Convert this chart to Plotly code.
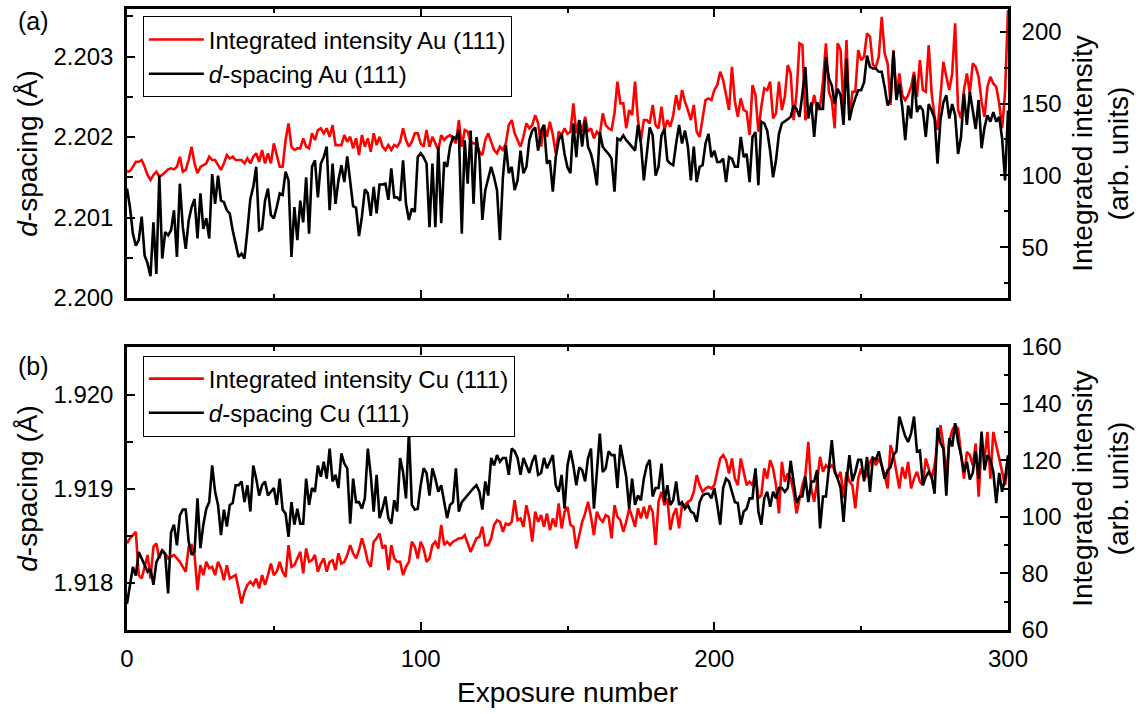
import plotly.graph_objects as go

# Exposure index (0 ... 300)
exposure = list(range(301))

# Au (111): d-spacing in Angstrom
au_dspacing = [
    2.20136, 2.20113, 2.20080, 2.20065, 2.20072, 2.20101, 2.20053, 2.20043, 2.20027, 2.20094,
    2.20030, 2.20152, 2.20049, 2.20082, 2.20078, 2.20084, 2.20109, 2.20051, 2.20142, 2.20088,
    2.20061, 2.20096, 2.20113, 2.20123, 2.20074, 2.20130, 2.20086, 2.20099, 2.20074, 2.20154,
    2.20117, 2.20152, 2.20121, 2.20119, 2.20109, 2.20105, 2.20084, 2.20067, 2.20051, 2.20055,
    2.20049, 2.20084, 2.20123, 2.20138, 2.20163, 2.20084, 2.20086, 2.20121, 2.20136, 2.20103,
    2.20099, 2.20113, 2.20130, 2.20128, 2.20157, 2.20146, 2.20051, 2.20113, 2.20072, 2.20121,
    2.20094, 2.20150, 2.20080, 2.20163, 2.20171, 2.20125, 2.20167, 2.20175, 2.20188, 2.20109,
    2.20167, 2.20117, 2.20146, 2.20165, 2.20144, 2.20176, 2.20148, 2.20114, 2.20112, 2.20077,
    2.20101, 2.20135, 2.20130, 2.20102, 2.20138, 2.20105, 2.20141, 2.20141, 2.20142, 2.20122,
    2.20161, 2.20125, 2.20125, 2.20121, 2.20171, 2.20117, 2.20097, 2.20111, 2.20107, 2.20175,
    2.20180, 2.20175, 2.20167, 2.20088, 2.20167, 2.20088, 2.20188, 2.20093, 2.20169, 2.20163,
    2.20188, 2.20200, 2.20198, 2.20208, 2.20080, 2.20196, 2.20142, 2.20208, 2.20117, 2.20200,
    2.20175, 2.20097, 2.20134, 2.20150, 2.20163, 2.20150, 2.20134, 2.20072, 2.20150, 2.20190,
    2.20155, 2.20163, 2.20134, 2.20146, 2.20183, 2.20155, 2.20163, 2.20196, 2.20208, 2.20212,
    2.20183, 2.20208, 2.20215, 2.20167, 2.20171, 2.20132, 2.20175, 2.20196, 2.20204, 2.20179,
    2.20162, 2.20155, 2.20217, 2.20175, 2.20221, 2.20188, 2.20221, 2.20188, 2.20179, 2.20163,
    2.20140, 2.20206, 2.20188, 2.20183, 2.20179, 2.20173, 2.20132, 2.20198, 2.20196, 2.20202,
    2.20196, 2.20192, 2.20188, 2.20183, 2.20215, 2.20192, 2.20146, 2.20183, 2.20212, 2.20202,
    2.20152, 2.20163, 2.20202, 2.20210, 2.20171, 2.20167, 2.20165, 2.20192, 2.20215, 2.20192,
    2.20208, 2.20188, 2.20146, 2.20188, 2.20144, 2.20163, 2.20165, 2.20192, 2.20204, 2.20175,
    2.20183, 2.20169, 2.20169, 2.20173, 2.20144, 2.20175, 2.20173, 2.20163, 2.20163, 2.20200,
    2.20175, 2.20179, 2.20144, 2.20200, 2.20206, 2.20140, 2.20219, 2.20217, 2.20208, 2.20183,
    2.20150, 2.20171, 2.20204, 2.20217, 2.20219, 2.20222, 2.20225, 2.20239, 2.20235, 2.20225,
    2.20254, 2.20287, 2.20223, 2.20243, 2.20200, 2.20243, 2.20235, 2.20235, 2.20299, 2.20273,
    2.20264, 2.20241, 2.20260, 2.20252, 2.20215, 2.20297, 2.20221, 2.20237, 2.20248, 2.20258,
    2.20258, 2.20268, 2.20301, 2.20287, 2.20285, 2.20285, 2.20281, 2.20281, 2.20262, 2.20239,
    2.20248, 2.20306, 2.20246, 2.20266, 2.20237, 2.20196, 2.20239, 2.20223, 2.20277, 2.20231,
    2.20239, 2.20233, 2.20200, 2.20241, 2.20233, 2.20223, 2.20167, 2.20221, 2.20243, 2.20252,
    2.20223, 2.20241, 2.20227, 2.20179, 2.20200, 2.20254, 2.20215, 2.20256, 2.20233, 2.20210,
    2.20246, 2.20186, 2.20212, 2.20227, 2.20219, 2.20231, 2.20219, 2.20225, 2.20198, 2.20146,
    2.20233,
]

# Au (111): integrated intensity (arb. units)
au_intensity = [
    102.6, 103.0, 106.0, 109.5, 109.5, 110.7, 106.0, 100.3, 96.8, 100.3,
    102.6, 99.1, 100.3, 102.6, 104.2, 104.9, 104.2, 106.0, 113.0, 102.6,
    103.8, 110.7, 120.0, 108.4, 101.5, 106.0, 107.2, 108.4, 113.0, 110.7,
    110.7, 107.2, 103.8, 108.4, 114.2, 111.9, 113.0, 110.7, 110.7, 110.7,
    108.4, 111.9, 108.4, 113.0, 115.4, 109.5, 117.7, 108.4, 115.4, 108.4,
    122.3, 114.2, 106.0, 106.0, 124.6, 136.2, 120.0, 117.7, 118.8, 118.8,
    125.8, 120.0, 118.8, 129.3, 124.6, 131.6, 132.8, 129.3, 132.8, 126.9,
    135.0, 121.1, 121.1, 121.1, 128.1, 123.4, 126.9, 118.8, 125.8, 114.2,
    128.1, 120.0, 125.8, 116.5, 129.3, 121.1, 126.9, 120.0, 117.7, 121.1,
    117.7, 121.1, 120.0, 123.4, 132.8, 124.6, 120.0, 123.4, 129.3, 129.3,
    122.3, 120.0, 131.6, 120.0, 126.9, 122.3, 117.7, 128.1, 124.6, 126.9,
    128.1, 125.8, 122.3, 138.5, 120.0, 131.6, 130.4, 123.4, 122.3, 122.3,
    116.5, 114.2, 124.6, 129.3, 123.4, 117.7, 115.4, 120.0, 117.7, 122.3,
    135.0, 138.5, 129.3, 124.6, 120.0, 126.9, 136.2, 132.8, 135.0, 142.0,
    136.2, 120.0, 135.0, 126.9, 137.3, 128.1, 115.4, 130.4, 128.1, 132.8,
    129.0, 130.4, 150.1, 129.3, 138.5, 130.4, 140.8, 130.4, 132.8, 125.8,
    130.4, 128.1, 143.2, 135.0, 132.8, 131.6, 143.2, 165.2, 150.1, 150.1,
    132.8, 145.5, 141.9, 165.2, 138.5, 124.6, 138.5, 138.5, 136.2, 149.0,
    135.0, 132.8, 147.8, 131.6, 138.5, 133.9, 141.9, 155.9, 145.5, 159.4,
    151.3, 145.5, 138.5, 149.0, 130.4, 126.9, 138.5, 152.4, 153.6, 152.4,
    159.4, 162.9, 172.1, 166.3, 155.9, 145.5, 175.6, 151.3, 140.8, 153.6,
    145.5, 144.3, 128.1, 162.9, 155.9, 130.4, 147.8, 160.6, 159.4, 165.2,
    139.7, 143.2, 165.2, 145.5, 154.7, 176.8, 171.0, 138.5, 157.1, 191.9,
    190.7, 138.5, 145.5, 145.5, 155.9, 145.5, 147.8, 165.2, 191.9, 158.2,
    152.4, 132.8, 191.9, 187.2, 145.5, 194.2, 138.5, 158.2, 158.2, 187.2,
    180.3, 182.6, 198.8, 196.5, 176.8, 175.6, 182.6, 210.4, 184.9, 178.0,
    149.0, 187.2, 153.6, 171.0, 155.9, 152.4, 155.9, 161.7, 172.1, 154.7,
    180.3, 159.4, 158.2, 190.7, 157.1, 140.8, 131.6, 157.1, 179.1, 168.6,
    159.4, 171.0, 205.8, 145.5, 139.7, 159.4, 171.0, 157.1, 178.0, 175.6,
    168.6, 151.3, 140.8, 161.7, 168.6, 164.0, 161.7, 150.1, 132.8, 158.0,
    215.0,
]

# Cu (111): d-spacing in Angstrom
cu_dspacing = [
    1.91778, 1.91798, 1.91817, 1.91808, 1.91833, 1.91826, 1.91819, 1.91812, 1.91815, 1.91798,
    1.91822, 1.91828, 1.91835, 1.91830, 1.91789, 1.91854, 1.91862, 1.91840, 1.91872, 1.91878,
    1.91878, 1.91844, 1.91830, 1.91833, 1.91890, 1.91837, 1.91862, 1.91879, 1.91886, 1.91925,
    1.91897, 1.91883, 1.91851, 1.91878, 1.91860, 1.91883, 1.91885, 1.91904, 1.91904, 1.91908,
    1.91886, 1.91904, 1.91876, 1.91925, 1.91911, 1.91893, 1.91904, 1.91908, 1.91893, 1.91897,
    1.91901, 1.91883, 1.91911, 1.91878, 1.91874, 1.91849, 1.91886, 1.91862, 1.91879, 1.91863,
    1.91863, 1.91911, 1.91883, 1.91901, 1.91897, 1.91925, 1.91913, 1.91929, 1.91911, 1.91943,
    1.91908, 1.91915, 1.91901, 1.91938, 1.91927, 1.91922, 1.91863, 1.91911, 1.91886, 1.91886,
    1.91879, 1.91890, 1.91943, 1.91915, 1.91876, 1.91915, 1.91869, 1.91879, 1.91892, 1.91869,
    1.91863, 1.91888, 1.91876, 1.91933, 1.91918, 1.91890, 1.91961, 1.91883, 1.91878, 1.91879,
    1.91904, 1.91922, 1.91917, 1.91893, 1.91922, 1.91911, 1.91897, 1.91904, 1.91886, 1.91869,
    1.91883, 1.91886, 1.91922, 1.91876, 1.91886, 1.91890, 1.91893, 1.91897, 1.91901, 1.91904,
    1.91897, 1.91878, 1.91908, 1.91893, 1.91933, 1.91925, 1.91936, 1.91929, 1.91933, 1.91933,
    1.91915, 1.91943, 1.91940, 1.91933, 1.91915, 1.91933, 1.91925, 1.91917, 1.91929, 1.91936,
    1.91915, 1.91917, 1.91933, 1.91922, 1.91929, 1.91936, 1.91904, 1.91897, 1.91915, 1.91879,
    1.91925, 1.91941, 1.91925, 1.91904, 1.91923, 1.91920, 1.91908, 1.91933, 1.91943, 1.91879,
    1.91918, 1.91959, 1.91918, 1.91922, 1.91940, 1.91936, 1.91936, 1.91901, 1.91947, 1.91929,
    1.91913, 1.91879, 1.91911, 1.91883, 1.91893, 1.91888, 1.91911, 1.91925, 1.91931, 1.91892,
    1.91901, 1.91901, 1.91927, 1.91886, 1.91904, 1.91883, 1.91888, 1.91908, 1.91883, 1.91886,
    1.91879, 1.91883, 1.91876, 1.91874, 1.91865, 1.91886, 1.91893, 1.91895, 1.91895, 1.91890,
    1.91901, 1.91883, 1.91862, 1.91901, 1.91911, 1.91908, 1.91897, 1.91886, 1.91885, 1.91862,
    1.91876, 1.91879, 1.91890, 1.91890, 1.91922, 1.91876, 1.91862, 1.91890, 1.91897, 1.91881,
    1.91897, 1.91890, 1.91901, 1.91901, 1.91897, 1.91901, 1.91930, 1.91908, 1.91885, 1.91892,
    1.91892, 1.91913, 1.91886, 1.91908, 1.91908, 1.91920, 1.91858, 1.91892, 1.91892, 1.91922,
    1.91952, 1.91918, 1.91911, 1.91901, 1.91865, 1.91908, 1.91936, 1.91908, 1.91918, 1.91931,
    1.91931, 1.91908, 1.91934, 1.91897, 1.91933, 1.91931, 1.91940, 1.91925, 1.91911, 1.91920,
    1.91923, 1.91936, 1.91940, 1.91977, 1.91965, 1.91956, 1.91950, 1.91959, 1.91977, 1.91940,
    1.91941, 1.91904, 1.91913, 1.91918, 1.91913, 1.91895, 1.91965, 1.91949, 1.91943, 1.91893,
    1.91954, 1.91945, 1.91970, 1.91950, 1.91936, 1.91918, 1.91929, 1.91910, 1.91917, 1.91940,
    1.91911, 1.91961, 1.91920, 1.91936, 1.91931, 1.91918, 1.91885, 1.91917, 1.91897, 1.91911,
    1.91936,
]

# Cu (111): integrated intensity (arb. units)
cu_intensity = [
    90.6, 92.4, 93.5, 94.7, 79.4, 78.2, 82.3, 86.5, 78.2, 89.4,
    90.6, 85.3, 88.2, 87.1, 85.3, 85.9, 86.5, 85.3, 84.1, 82.3,
    80.6, 89.4, 90.0, 86.5, 74.1, 82.9, 79.4, 84.1, 81.8, 82.3,
    79.4, 84.1, 81.8, 77.6, 82.9, 78.2, 78.8, 79.4, 74.7, 69.4,
    73.5, 75.9, 77.1, 75.9, 78.2, 74.7, 79.4, 75.9, 79.4, 83.5,
    79.4, 80.6, 84.1, 80.6, 78.8, 90.0, 82.3, 82.9, 85.3, 87.6,
    80.0, 88.8, 84.1, 84.7, 86.5, 80.6, 83.5, 85.3, 80.6, 84.1,
    84.7, 81.2, 87.1, 83.5, 84.1, 86.5, 90.0, 87.1, 85.3, 88.2,
    92.4, 88.8, 84.1, 82.3, 91.2, 92.4, 94.1, 88.8, 90.0, 81.2,
    90.0, 85.3, 84.1, 84.1, 79.4, 82.3, 84.1, 91.2, 89.4, 85.3,
    91.2, 88.8, 84.1, 85.3, 90.0, 91.2, 88.8, 97.1, 90.0, 91.2,
    90.0, 91.2, 91.8, 92.4, 92.4, 93.5, 90.6, 87.6, 90.0, 92.4,
    92.9, 96.5, 90.0, 90.0, 92.4, 97.1, 98.8, 98.2, 94.7, 97.6,
    97.1, 98.2, 105.9, 98.8, 99.4, 96.5, 104.1, 99.4, 91.2, 101.8,
    98.2, 100.6, 96.5, 101.2, 95.3, 99.4, 96.5, 104.7, 95.9, 101.8,
    103.5, 97.1, 96.5, 88.8, 93.5, 98.2, 101.2, 105.3, 100.0, 93.5,
    101.8, 99.4, 98.2, 100.6, 100.0, 92.4, 104.1, 100.0, 98.8, 94.7,
    98.2, 103.0, 100.0, 96.5, 103.0, 99.4, 103.5, 99.4, 104.1, 101.8,
    90.0, 105.3, 108.8, 104.1, 106.5, 95.3, 100.6, 103.0, 95.9, 104.1,
    104.1, 105.3, 105.9, 108.8, 114.7, 111.2, 108.8, 110.0, 110.6, 110.0,
    111.2, 115.9, 120.6, 121.8, 120.0, 115.3, 120.6, 113.5, 111.2, 120.6,
    115.9, 111.2, 112.4, 111.2, 115.9, 106.5, 107.6, 117.1, 113.5, 120.0,
    117.1, 111.2, 101.2, 119.4, 112.4, 115.3, 113.5, 108.8, 101.2, 106.5,
    111.2, 114.7, 126.5, 110.0, 105.3, 112.4, 121.2, 115.9, 118.2, 117.1,
    118.2, 116.5, 113.5, 115.9, 106.5, 115.9, 112.4, 111.2, 103.0, 113.5,
    117.1, 113.5, 114.7, 119.4, 121.2, 118.2, 120.6, 118.2, 114.7, 110.0,
    125.3, 121.8, 115.9, 110.0, 117.6, 113.5, 119.4, 110.0, 113.5, 115.9,
    112.4, 111.2, 120.6, 117.1, 113.5, 118.2, 126.5, 132.4, 125.3, 114.7,
    126.5, 130.6, 132.4, 131.2, 121.8, 113.5, 122.9, 121.8, 118.2, 125.9,
    107.1, 125.3, 120.6, 130.0, 113.5, 130.0, 125.3, 120.6, 115.9, 111.2,
    118.2,
]

FONT = "Arial, 'Liberation Sans', sans-serif"
RED = "#ff0000"
BLACK = "#000000"
LW = 2.6

fig = go.Figure()

# Panel (a): Au (111); intensity on the base (right) axis, d-spacing overlaid on the left
fig.add_trace(go.Scatter(
    x=exposure[:len(au_intensity)], y=au_intensity, mode="lines",
    line=dict(color=RED, width=LW), name="Integrated intensity Au (111)",
    xaxis="x", yaxis="y", legend="legend"))
fig.add_trace(go.Scatter(
    x=exposure[:len(au_dspacing)], y=au_dspacing, mode="lines",
    line=dict(color=BLACK, width=LW), name="<i>d</i>-spacing Au (111)",
    xaxis="x", yaxis="y2", legend="legend"))

# Panel (b): Cu (111)
fig.add_trace(go.Scatter(
    x=exposure[:len(cu_intensity)], y=cu_intensity, mode="lines",
    line=dict(color=RED, width=LW), name="Integrated intensity Cu (111)",
    xaxis="x2", yaxis="y3", legend="legend2"))
fig.add_trace(go.Scatter(
    x=exposure[:len(cu_dspacing)], y=cu_dspacing, mode="lines",
    line=dict(color=BLACK, width=LW), name="<i>d</i>-spacing Cu (111)",
    xaxis="x2", yaxis="y4", legend="legend2"))

AX = dict(showline=True, linecolor="black", linewidth=2.5, showgrid=False,
          zeroline=False, automargin=False, ticks="inside", ticklen=8,
          tickwidth=2, tickcolor="black",
          tickfont=dict(size=24, family=FONT, color="black"))

TITLE_FONT = dict(size=28, family=FONT)

DOM_A = [0.5346, 1.0]
DOM_B = [0.0, 0.4557]

x_common = dict(AX, range=[0, 300], tick0=0, dtick=100, mirror="ticks",
                minor=dict(ticks="inside", ticklen=4, tickwidth=2,
                           tickcolor="black", dtick=50, tick0=0))

LEG = dict(xanchor="left", yanchor="top", bgcolor="white",
           bordercolor="black", borderwidth=1, itemwidth=55,
           font=dict(size=24, family=FONT), tracegroupgap=0)

fig.update_layout(
    template="none",
    width=1140, height=714,
    margin=dict(l=127, r=132, t=9, b=84),
    paper_bgcolor="white", plot_bgcolor="white",
    font=dict(family=FONT, color="black", size=24),
    xaxis=dict(x_common, domain=[0, 1], anchor="y", showticklabels=False,
               matches="x2"),
    xaxis2=dict(x_common, domain=[0, 1], anchor="y3",
                ticklabelstandoff=5,
                title=dict(text="Exposure number", standoff=12,
                           font=TITLE_FONT)),
    yaxis=dict(AX, domain=DOM_A, anchor="x", side="right",
               range=[14.7, 215.8], tick0=0, dtick=50,
               ticklabelstandoff=6,
               minor=dict(ticks="inside", ticklen=4, tickwidth=2,
                          tickcolor="black", dtick=25, tick0=0),
               title=dict(text="Integrated intensity<br>(arb. units)",
                          standoff=12, font=TITLE_FONT)),
    yaxis2=dict(AX, overlaying="y", anchor="x", side="left",
                range=[2.2, 2.20359], tick0=2.2, dtick=0.001,
                tickformat=".3f", ticklabelstandoff=6,
                minor=dict(ticks="inside", ticklen=6, tickwidth=2,
                           tickcolor="black", dtick=0.0005, tick0=2.2),
                title=dict(text="<i>d</i>-spacing (Å)", standoff=8,
                           font=TITLE_FONT)),
    yaxis3=dict(AX, domain=DOM_B, anchor="x2", side="right",
                range=[60, 160], tick0=0, dtick=20,
                ticklabelstandoff=6,
                minor=dict(ticks="inside", ticklen=4, tickwidth=2,
                           tickcolor="black", dtick=10, tick0=0),
                title=dict(text="Integrated intensity<br>(arb. units)",
                           standoff=12, font=TITLE_FONT)),
    yaxis4=dict(AX, overlaying="y3", anchor="x2", side="left",
                range=[1.9175, 1.92051], tick0=1.917, dtick=0.001,
                tickformat=".3f", ticklabelstandoff=6,
                minor=dict(ticks="inside", ticklen=6, tickwidth=2,
                           tickcolor="black", dtick=0.0005, tick0=1.917),
                title=dict(text="<i>d</i>-spacing (Å)", standoff=8,
                           font=TITLE_FONT)),
    legend=dict(LEG, x=0.018, y=0.988),
    legend2=dict(LEG, x=0.018, y=0.442),
    annotations=[
        dict(text="(a)", xref="paper", yref="paper", x=-0.106, y=0.981,
             xanchor="center", yanchor="middle", showarrow=False,
             font=dict(size=25, family=FONT)),
        dict(text="(b)", xref="paper", yref="paper", x=-0.106, y=0.425,
             xanchor="center", yanchor="middle", showarrow=False,
             font=dict(size=25, family=FONT)),
    ],
)

fig.write_html("out.html")
